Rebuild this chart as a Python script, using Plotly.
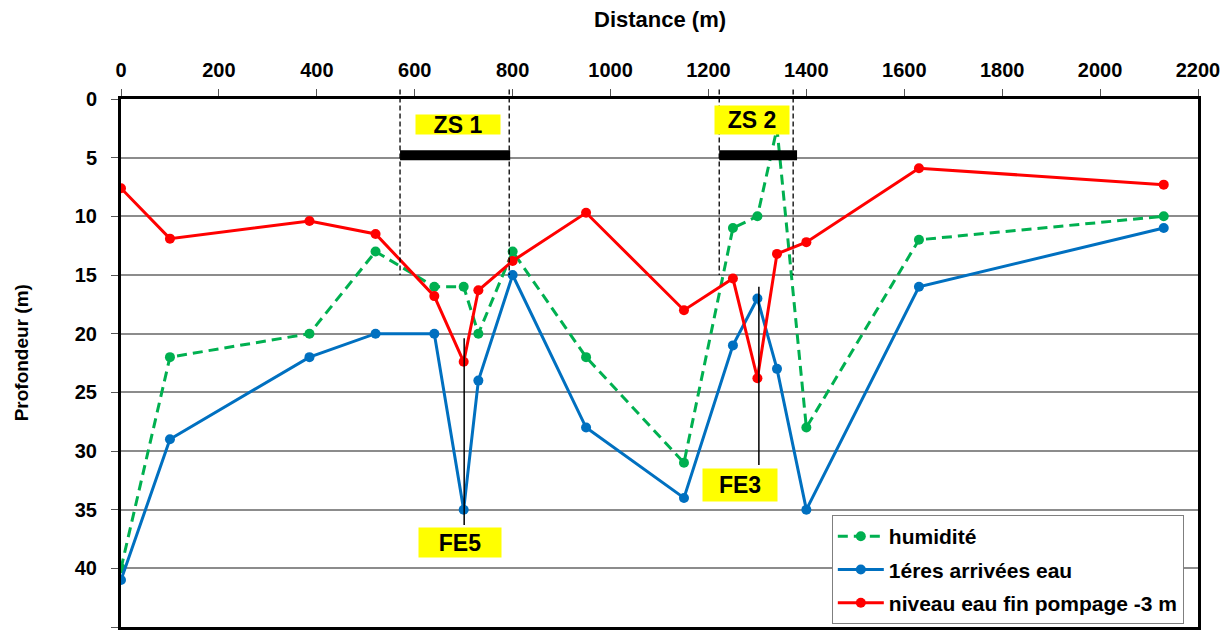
import plotly.graph_objects as go

# ---- data ----
distance = [0, 100, 385, 520, 640, 700, 730, 800, 950, 1150, 1250, 1300, 1340, 1400, 1630, 2130]
humidite = [40, 22, 20, 13, 16, 16, 20, 13, 22, 31, 11, 10, 2.5, 28, 12, 10]
arrivees = [41, 29, 22, 20, 20, 35, 24, 15, 28, 34, 21, 17, 23, 35, 16, 11]
niveau = [7.6, 11.9, 10.4, 11.5, 16.8, 22.4, 16.3, 13.8, 9.7, 18.0, 15.3, 23.8, 13.2, 12.2, 5.9, 7.3]

series_names = ["humidité", "1éres arrivées eau", "niveau eau fin pompage -3 m"]
series_colors = ["#00B050", "#0070C0", "#FF0000"]

x_ticks = [0, 200, 400, 600, 800, 1000, 1200, 1400, 1600, 1800, 2000, 2200]
y_ticks = [0, 5, 10, 15, 20, 25, 30, 35, 40, 45]
X_MAX, Y_MAX = 2200, 45

# zones (ZS) : start, end, bar end, label
zones = [(570, 793, 795, "ZS 1"), (1222, 1373, 1381, "ZS 2")]
zone_label_pos = [(688, 2.2, 84, 19), (1289, 1.8, 74, 28)]
zone_bar_depth = 4.8
zone_line_bottom = 15

# forages (FE): x, top, bottom, label, label_x, label_y, w, h
forages = [(701, 20.4, 36.3, "FE5", 692, 37.8, 82, 29),
           (1303, 16.0, 31.2, "FE3", 1264, 32.9, 74, 32)]

FONT = "Liberation Sans, Arial"

fig = go.Figure()
for name, vals, col, dash in zip(series_names, [humidite, arrivees, niveau], series_colors,
                                 ["10px,6px", "solid", "solid"]):
    fig.add_trace(go.Scatter(
        x=distance, y=vals, name=name, mode="lines+markers",
        line=dict(color=col, width=3, dash=dash),
        marker=dict(color=col, size=10),
        legendgroup=name,
    ))

shapes = []
annotations = []
for (x0, x1, xbar, label), (lx, ly, w, h) in zip(zones, zone_label_pos):
    for xv in (x0, x1):
        shapes.append(dict(type="line", xref="x", yref="paper", x0=xv, x1=xv,
                           y0=1.018, y1=1 - zone_line_bottom / Y_MAX,
                           line=dict(color="black", width=1.3, dash="5px,3px"), layer="above"))
    shapes.append(dict(type="line", xref="x", yref="y", x0=x0, x1=xbar,
                       y0=zone_bar_depth, y1=zone_bar_depth,
                       line=dict(color="black", width=10), layer="above"))
    annotations.append(dict(x=lx, y=ly, xref="x", yref="y", text=label, showarrow=False,
                            bgcolor="#FFFF00", width=w, height=h, borderpad=0,
                            font=dict(size=23, color="black", family=FONT, weight="bold")))

for fx, top, bot, label, lx, ly, w, h in forages:
    shapes.append(dict(type="line", xref="x", yref="y", x0=fx, x1=fx, y0=top, y1=bot,
                       line=dict(color="black", width=1.5), layer="above"))
    annotations.append(dict(x=lx, y=ly, xref="x", yref="y", text=label, showarrow=False,
                            bgcolor="#FFFF00", width=w, height=h, borderpad=0,
                            font=dict(size=23, color="black", family=FONT, weight="bold")))

annotations.append(dict(x=0.5, y=1.15, xref="paper", yref="paper", text="Distance (m)",
                        showarrow=False, xanchor="center", yanchor="middle",
                        font=dict(size=22, color="black", family=FONT, weight="bold")))
annotations.append(dict(x=-0.092, y=0.52, xref="paper", yref="paper", text="Profondeur (m)",
                        showarrow=False, textangle=-90, xanchor="center", yanchor="middle",
                        font=dict(size=19, color="black", family=FONT, weight="bold")))

fig.update_layout(
    width=1232, height=634,
    margin=dict(l=121, r=34, t=99, b=7, autoexpand=False),
    paper_bgcolor="white", plot_bgcolor="white",
    font=dict(family=FONT, size=20, color="black", weight="bold"),
    showlegend=True,
    legend=dict(x=0.66, y=0.212, xanchor="left", yanchor="top",
                bgcolor="white", bordercolor="#7f7f7f", borderwidth=1,
                font=dict(size=21, color="black", weight="bold"),
                traceorder="grouped", tracegroupgap=3, itemwidth=46),
    shapes=shapes, annotations=annotations,
    xaxis=dict(range=[0, X_MAX], side="top", tickvals=x_ticks, ticktext=[str(v) for v in x_ticks],
               showgrid=False, zeroline=False, showline=True, mirror=True, automargin=False,
               linecolor="black", linewidth=3, ticks="outside", ticklen=7, tickcolor="#555",
               tickwidth=1, tickfont=dict(size=20, weight="bold"), ticklabelstandoff=4),
    yaxis=dict(range=[Y_MAX, 0], tickvals=y_ticks, ticktext=[str(v) for v in y_ticks],
               showgrid=True, gridcolor="#8c8c8c", gridwidth=1.5, zeroline=False, automargin=False,
               showline=True, mirror=True, linecolor="black", linewidth=3,
               ticks="outside", ticklen=7, tickcolor="#555", tickwidth=1,
               tickfont=dict(size=20, weight="bold"), ticklabelstandoff=10),
)

fig.write_html("out.html")
